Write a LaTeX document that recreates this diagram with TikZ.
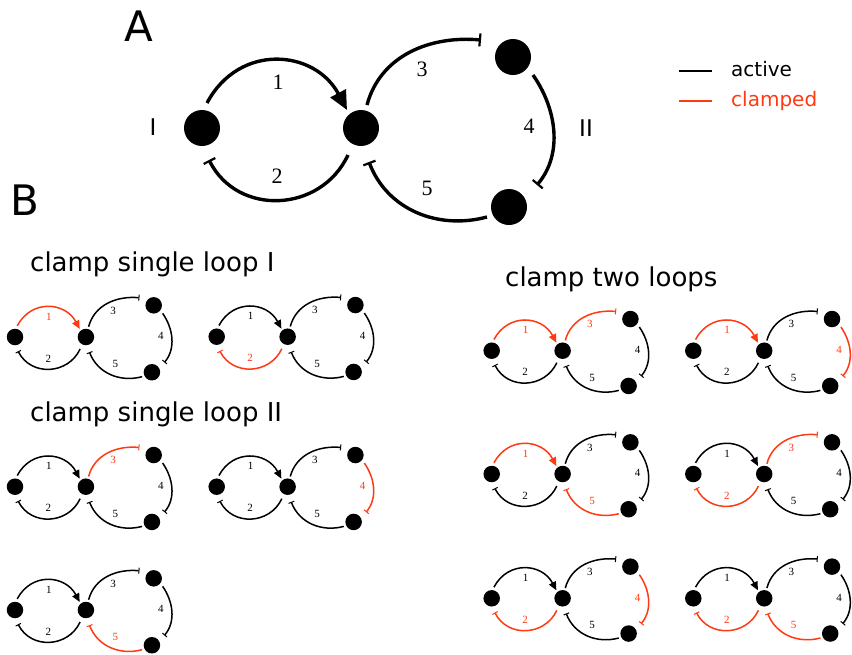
\documentclass[tikz,border=0pt]{standalone}
\usepackage{fontspec}
\setmainfont{DejaVu Sans}
\newfontfamily\numfont{Liberation Serif}
\usetikzlibrary{arrows.meta}
\definecolor{clamp}{HTML}{FF3A12}

\tikzset{
  bigmotif/.style={x=1pt, y=1pt, line width=3.4pt,
    blob/.style={circle, fill=black, draw=none, inner sep=0pt, minimum size=36pt},
    num/.style={font=\numfont\fontsize{22}{22}\selectfont, inner sep=0pt},
    act/.style={-{Triangle[length=19pt, width=17pt]}},
    inh/.style={-{Bar[width=13pt, line width=2.2pt]}}},
  smallmotif/.style={x=0.446pt, y=0.446pt, line width=1.5pt,
    blob/.style={circle, fill=black, draw=none, inner sep=0pt, minimum size=16.5pt},
    num/.style={font=\numfont\fontsize{11}{11}\selectfont, inner sep=0pt},
    act/.style={-{Triangle[length=8.5pt, width=7.5pt]}},
    inh/.style={-{Bar[width=6pt, line width=1pt]}}},
  heading/.style={font=\fontsize{26}{26}\selectfont, anchor=base west, inner sep=0pt},
  panel/.style={font=\fontsize{42}{42}\selectfont, anchor=base west, inner sep=0pt},
  looplbl/.style={font=\fontsize{23}{23}\selectfont, inner sep=0pt},
  legtext/.style={font=\fontsize{20}{20}\selectfont, anchor=base west, inner sep=0pt},
}

% Two-loop motif: #1 name prefix, #2/#3 position of node I (x, y downwards),
% #4 size style, #5..#9 colours of edges 1..5
\newcommand{\motif}[9]{%
  \begin{scope}[shift={(#2pt,-#3pt)}, #4]
    \node[blob] (#1I) at (0,0) {};
    \node[blob] (#1C) at (159,0) {};
    \node[blob] (#1T) at (311,71) {};
    \node[blob] (#1B) at (307,-79) {};
    \draw[act, draw=#5] ([shift={(5,25)}]#1I.center)
      to[out=62, in=118, looseness=1.25] ([shift={(-14,18)}]#1C.center);
    \draw[inh, draw=#6] ([shift={(-13,-27)}]#1C.center)
      to[out=245, in=-63, looseness=1.17] ([shift={(7,-32)}]#1I.center);
    \draw[inh, draw=#7] ([shift={(6,23)}]#1C.center)
      to[out=75, in=175, looseness=1.0] ([shift={(-32,17)}]#1T.center);
    \draw[inh, draw=#8] ([shift={(20,-18)}]#1T.center)
      to[out=-55, in=50, looseness=0.95] ([shift={(28,22)}]#1B.center);
    \draw[inh, draw=#9] ([shift={(-22,-10)}]#1B.center)
      to[out=-165, in=-69, looseness=1.0] ([shift={(8,-34)}]#1C.center);
    \node[num, text=#5] (#1n1) at (76,46) {1};
    \node[num, text=#6] (#1n2) at (75,-48) {2};
    \node[num, text=#7] (#1n3) at (220,59) {3};
    \node[num, text=#8] (#1n4) at (327,2) {4};
    \node[num, text=#9] (#1n5) at (225,-60) {5};
  \end{scope}}

\begin{document}
\begin{tikzpicture}[x=1pt, y=1pt]
  \useasboundingbox (0,0) rectangle (852,-654);

  % panel A
  \node[panel] (pA) at (124,-41) {A};
  \motif{a}{202}{128}{bigmotif}{black}{black}{black}{black}{black}
  \node[looplbl] (loopI) at (153,-127) {I};
  \node[looplbl] (loopII) at (586,-128) {II};

  % legend
  \coordinate (la1) at (679,-71);
  \coordinate (la2) at (712,-71);
  \coordinate (lc1) at (679,-101);
  \coordinate (lc2) at (712,-101);
  \draw[line width=1.8pt, black] (la1) -- (la2);
  \draw[line width=1.8pt, clamp] (lc1) -- (lc2);
  \node[legtext] (legA) at (731,-76.5) {active};
  \node[legtext, text=clamp] (legC) at (731,-106) {clamped};

  % panel B
  \node[panel] (pB) at (10,-215) {B};
  \node[heading] (h1) at (30,-271) {clamp single loop I};
  \node[heading] (h2) at (30,-421) {clamp single loop II};
  \node[heading] (h3) at (505,-286) {clamp two loops};

  \motif{s1}{15}{337}{smallmotif}{clamp}{black}{black}{black}{black}
  \motif{s2}{216.7}{336.7}{smallmotif}{black}{clamp}{black}{black}{black}
  \motif{s3}{15}{486.7}{smallmotif}{black}{black}{clamp}{black}{black}
  \motif{s4}{216.7}{486.7}{smallmotif}{black}{black}{black}{clamp}{black}
  \motif{s5}{15}{610}{smallmotif}{black}{black}{black}{black}{clamp}

  \motif{d1}{491.7}{350.7}{smallmotif}{clamp}{black}{clamp}{black}{black}
  \motif{d2}{693.3}{350.7}{smallmotif}{clamp}{black}{black}{clamp}{black}
  \motif{d3}{491.7}{474}{smallmotif}{clamp}{black}{black}{black}{clamp}
  \motif{d4}{693.3}{474}{smallmotif}{black}{clamp}{clamp}{black}{black}
  \motif{d5}{491.7}{598.3}{smallmotif}{black}{clamp}{black}{clamp}{black}
  \motif{d6}{693.3}{598.3}{smallmotif}{black}{clamp}{black}{black}{clamp}
\end{tikzpicture}
\end{document}
